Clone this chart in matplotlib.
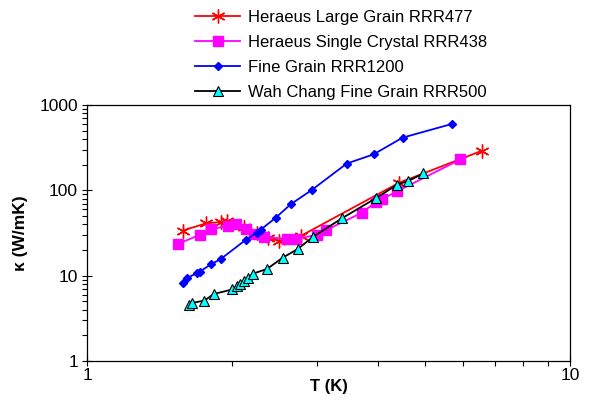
import matplotlib
matplotlib.use('Agg')
import matplotlib.pyplot as plt
from matplotlib.ticker import LogLocator, NullFormatter, FixedFormatter, FixedLocator

plt.rcParams['font.family'] = ['Liberation Sans', 'DejaVu Sans']

# Heraeus Large Grain RRR477
t_large = [1.58, 1.76, 1.89, 1.95, 2.11, 2.25, 2.37, 2.50, 2.77, 4.42, 6.57]
k_large = [33.8, 40.9, 42.6, 43.7, 37.2, 31.9, 27.4, 25.5, 29.2, 122, 291]

# Heraeus Single Crystal RRR438
t_single = [1.54, 1.71, 1.81, 1.96, 2.03, 2.13, 2.22, 2.32, 2.59, 2.71, 2.99, 3.13,
            3.71, 3.97, 4.08, 4.39, 5.93]
k_single = [23.5, 30.0, 35.2, 38.2, 40.3, 34.9, 30.4, 28.4, 27.1, 27.1, 30.0, 34.3,
            54.7, 73.6, 78.7, 97.7, 230]

# Fine Grain RRR1200
t_fine = [1.58, 1.61, 1.69, 1.71, 1.81, 1.89, 2.13, 2.25, 2.29, 2.46, 2.64, 2.92,
          3.45, 3.92, 4.50, 5.69]
k_fine = [8.3, 9.4, 10.7, 11.1, 13.7, 15.6, 26.2, 32.0, 34.7, 47.8, 68.6, 101,
          206, 264, 414, 599]

# Wah Chang Fine Grain RRR500
t_wah = [1.63, 1.65, 1.75, 1.83, 2.00, 2.04, 2.07, 2.11, 2.15, 2.21, 2.36, 2.54,
         2.73, 2.94, 3.38, 3.97, 4.39, 4.63, 4.97]
k_wah = [4.5, 4.8, 5.1, 6.1, 6.9, 7.5, 8.0, 8.6, 9.4, 10.6, 12.0, 16.2,
         20.5, 28.6, 47.4, 81.3, 117, 129, 158]

fig = plt.figure(figsize=(5.89, 4.01), dpi=100)
ax = fig.add_axes([87 / 589, 1 - 361 / 401, 483 / 589, 256 / 401])

ax.plot(t_large, k_large, '-', color='#FF0000', lw=1.3, marker=(6, 2, 0), ms=10,
        mec='#FF0000', mew=1.0, label='Heraeus Large Grain RRR477')
ax.plot(t_single, k_single, '-', color='#FF00FF', lw=1.3, marker='s', ms=7,
        mec='#FF00FF', label='Heraeus Single Crystal RRR438')
ax.plot(t_fine, k_fine, '-', color='#0000FF', lw=1.3, marker='D', ms=4.5,
        mec='#0000FF', label='Fine Grain RRR1200')
ax.plot(t_wah, k_wah, '-', color='black', lw=1.3, marker='^', ms=6.5,
        mfc='#00FFFF', mec='black', mew=0.8, label='Wah Chang Fine Grain RRR500')

ax.set_xscale('log')
ax.set_yscale('log')
ax.set_xlim(1, 10)
ax.set_ylim(1, 1000)

ax.xaxis.set_major_locator(FixedLocator([1, 10]))
ax.xaxis.set_major_formatter(FixedFormatter(['1', '10']))
ax.xaxis.set_minor_locator(LogLocator(base=10, subs=range(2, 10)))
ax.xaxis.set_minor_formatter(NullFormatter())
ax.yaxis.set_major_locator(FixedLocator([1, 10, 100, 1000]))
ax.yaxis.set_major_formatter(FixedFormatter(['1', '10', '100', '1000']))
ax.yaxis.set_minor_locator(LogLocator(base=10, subs=range(2, 10)))
ax.yaxis.set_minor_formatter(NullFormatter())

ax.tick_params(which='major', direction='inout', length=7, width=0.8, labelsize=12.5)
ax.tick_params(axis='x', which='major', pad=1.5)
ax.tick_params(axis='y', which='major', pad=3)
ax.tick_params(which='minor', direction='out', length=3.5, width=0.8)
for s in ax.spines.values():
    s.set_linewidth(0.9)

ax.set_xlabel('T (K)', fontsize=12, fontweight='bold', labelpad=-3)
ax.set_ylabel('\u03ba (W/mK)', fontsize=12.5, fontweight='bold', labelpad=8)

fig.legend(loc='upper left', bbox_to_anchor=(195 / 589, 1 - 10 / 401), frameon=False,
           fontsize=12, handlelength=2.7, handletextpad=0.5, labelspacing=0.6,
           borderpad=0, borderaxespad=0)

fig.savefig('out.png', dpi=100)
